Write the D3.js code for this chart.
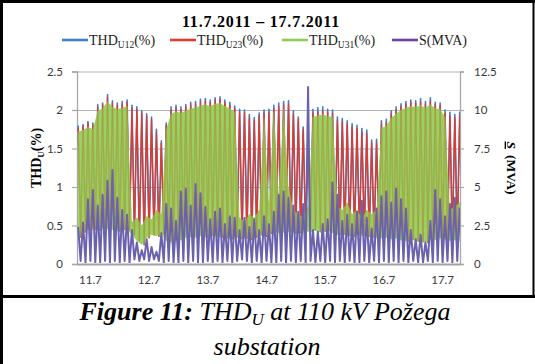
<!DOCTYPE html>
<html>
<head>
<meta charset="utf-8">
<script src="https://cdn.jsdelivr.net/npm/d3@7"></script>
<style>
  body { margin: 0; background: #fff; }
  svg { display: block; }
</style>
</head>
<body>
<div id="chart"></div>
<script>
// Values. One sample every 2 hours, first one at 10.7 ~19:00.
// Each sample is a high and a low, the logger flips between them so the
// lines look like dense vertical stripes.
const days = [11, 12, 13, 14, 15, 16, 17];
const leftTicks = [0, 0.5, 1, 1.5, 2, 2.5];
const rightTicks = [0, 2.5, 5, 7.5, 10, 12.5];
const tStart = 10.8;      // day of July of the first sample
const tStep = 1 / 12;     // 2 hours

// THD U12 (%) peaks
const u12Hi = [1.80,1.81,1.85,1.83,2.07,2.09,2.20,2.12,2.09,2.11,
               2.13,2.06,2.04,1.99,1.95,1.91,1.75,1.60,1.83,2.04,
               2.06,2.04,2.07,2.10,2.11,2.14,2.15,2.13,2.16,2.17,
               2.13,2.10,2.05,2.01,2.00,1.94,1.90,1.96,2.00,2.01,
               2.06,2.09,2.11,2.12,1.99,1.91,1.78,1.63,2.01,2.03,
               2.04,2.01,2.00,1.91,1.89,1.86,1.82,1.80,1.76,1.74,
               1.61,1.62,1.86,1.88,1.99,2.04,2.08,2.11,2.13,2.12,
               2.15,2.11,2.16,2.10,2.09,2.00,1.97,1.94,1.97];
// THD U23 (%) peaks
const u23Hi = [1.77,1.79,1.83,1.80,2.04,2.07,2.17,2.09,2.06,2.08,
               2.10,2.03,2.01,1.96,1.92,1.88,1.72,1.57,1.80,2.00,
               2.03,2.01,2.04,2.07,2.08,2.11,2.12,2.10,2.13,2.14,
               2.10,2.07,2.02,1.98,1.97,1.90,1.87,1.93,1.96,1.97,
               2.02,2.05,2.07,2.08,1.95,1.88,1.75,1.60,1.96,1.98,
               1.99,1.97,1.96,1.87,1.85,1.82,1.78,1.76,1.72,1.70,
               1.57,1.58,1.82,1.84,1.95,2.00,2.05,2.08,2.10,2.09,
               2.11,2.08,2.12,2.07,2.06,1.96,1.93,1.90,1.93];
// THD U31 (%) peaks (drops out at night)
const u31Hi = [1.72,1.74,1.78,1.75,1.99,2.02,2.11,2.04,2.01,2.03,
               2.05,0.55,0.60,0.50,0.62,0.58,0.70,0.65,1.75,1.95,
               1.98,1.96,1.99,2.02,2.03,2.06,2.07,2.05,2.08,2.09,
               2.05,2.02,1.97,0.60,0.55,0.65,0.60,0.70,1.90,0.80,
               1.97,0.90,2.02,1.00,0.70,0.65,0.60,0.75,1.91,1.93,
               1.94,1.92,1.91,0.75,0.70,0.80,0.65,0.70,0.60,0.70,
               0.65,0.70,1.77,1.79,1.90,1.95,2.00,2.03,2.05,2.04,
               2.06,2.03,2.07,2.02,2.01,1.91,0.70,0.75,0.80];
// common low values of the three THD lines (%)
const thdLo = [0.35,0.42,0.44,0.45,0.44,0.46,0.45,0.44,0.43,0.45,
               0.44,0.38,0.30,0.25,0.34,0.38,0.36,0.40,0.30,0.28,
               0.30,0.31,0.34,0.35,0.34,0.36,0.35,0.37,0.36,0.35,
               0.34,0.33,0.35,0.33,0.34,0.32,0.35,0.38,0.36,0.40,
               0.42,0.40,0.41,0.42,0.40,0.41,0.43,0.42,0.44,0.42,
               0.43,0.44,0.40,0.38,0.39,0.37,0.36,0.38,0.37,0.36,
               0.35,0.34,0.33,0.34,0.32,0.33,0.31,0.30,0.32,0.30,
               0.29,0.28,0.32,0.31,0.33,0.32,0.30,0.31,0.30];
// S (MVA) peaks and lows
const sHi = [2.4,2.7,4.2,4.8,3.8,4.5,5.4,6.1,4.3,3.5,
             3.2,2.2,1.4,0.9,1.6,1.1,0.8,2.0,3.9,3.6,
             2.8,4.7,4.9,3.8,5.2,4.6,3.7,2.9,3.4,3.6,
             2.6,3.1,3.0,2.2,3.0,2.4,2.9,2.2,3.1,2.6,
             3.4,4.5,4.7,4.3,3.8,3.4,3.9,11.5,2.2,2.1,
             2.6,2.9,5.3,4.5,2.8,3.2,2.6,3.4,4.1,3.0,
             2.3,3.6,4.4,4.7,4.0,4.9,4.2,3.6,2.2,1.6,
             1.9,1.4,2.8,4.8,4.2,3.1,3.9,4.3,3.6];
const sLo = [0.2,0.1,0.2,0.1,0.1,0.2,0.1,0.2,0.1,0.2,
             0.1,0.3,0.2,0.3,0.2,0.3,0.2,0.1,0.2,0.1,
             0.1,0.2,0.1,0.2,0.1,0.1,0.2,0.1,0.2,0.1,
             0.2,0.1,0.2,0.3,0.2,0.1,0.2,0.1,0.2,0.1,
             0.1,0.2,0.1,0.2,0.1,0.2,0.1,0.2,0.1,0.2,
             0.1,0.2,0.1,0.2,0.1,0.2,0.1,0.1,0.2,0.1,
             0.2,0.1,0.2,0.1,0.2,0.1,0.2,0.1,0.2,0.1,
             0.1,0.2,0.1,0.2,0.1,0.2,0.1,0.2,0.1];

const width = 535;
const height = 364;
const plot = {left: 77, right: 460, top: 71.5, bottom: 264};

const colors = {u12: "#3f7fd0", u23: "#e43a28", u31: "#92cc55", s: "#6a62ac"};

const svg = d3.select("#chart")
  .append("svg")
  .attr("width", width)
  .attr("height", height);

// scales
const x = d3.scaleLinear().domain([10.78, 17.305]).range([plot.left, plot.right]);
const yL = d3.scaleLinear().domain([0, 2.5]).range([plot.bottom, plot.top]);
const yR = d3.scaleLinear().domain([0, 12.5]).range([plot.bottom, plot.top]);

// gridlines
svg.append("g")
  .attr("transform", `translate(${plot.left},0)`)
  .call(d3.axisLeft(yL).tickValues(leftTicks.slice(1)).tickSize(-(plot.right - plot.left)).tickFormat(""))
  .call(g => g.select(".domain").remove())
  .call(g => g.selectAll("line").attr("stroke", "#b4b4b4").attr("stroke-width", 1.2));

// left axis
svg.append("g")
  .attr("transform", `translate(${plot.left},0)`)
  .call(d3.axisLeft(yL).tickValues(leftTicks).tickSize(5).tickPadding(9).tickFormat(d => d))
  .call(g => g.select(".domain").attr("stroke", "#a8a8a8").attr("stroke-width", 1.3))
  .call(g => g.selectAll("line").attr("stroke", "#a8a8a8").attr("stroke-width", 1.2))
  .call(g => g.selectAll("text").attr("fill", "#3a3a3a").style("font", "11.5px Lato"));

// right axis
svg.append("g")
  .attr("transform", `translate(${plot.right},0)`)
  .call(d3.axisRight(yR).tickValues(rightTicks).tickSize(4).tickPadding(10).tickFormat(d => d))
  .call(g => g.select(".domain").attr("stroke", "#a8a8a8").attr("stroke-width", 1.3))
  .call(g => g.selectAll("line").attr("stroke", "#a8a8a8").attr("stroke-width", 1.2))
  .call(g => g.selectAll("text").attr("fill", "#3a3a3a").style("font", "11.5px Lato"));

// bottom axis
svg.append("g")
  .attr("transform", `translate(0,${plot.bottom})`)
  .call(d3.axisBottom(x).tickValues(days).tickSize(0).tickPadding(12).tickFormat(d => d + ".7"))
  .call(g => g.select(".domain").attr("stroke", "#a0a0a0").attr("stroke-width", 2.2))
  .call(g => g.selectAll("text").attr("fill", "#3a3a3a").style("font", "11.5px Lato"));

// series
svg.append("clipPath").attr("id", "clip")
  .append("rect")
  .attr("x", plot.left).attr("y", plot.top - 20)
  .attr("width", plot.right - plot.left).attr("height", plot.bottom - plot.top + 19);

function zigzag(hi, lo) {
  const pts = [];
  hi.forEach((h, i) => {
    const t = tStart + i * tStep;
    pts.push([t, h]);
    pts.push([t + tStep / 2, lo[i]]);
  });
  return pts;
}

const lineL = d3.line().x(d => x(d[0])).y(d => yL(d[1]));
const lineR = d3.line().x(d => x(d[0])).y(d => yR(d[1]));

const plotG = svg.append("g").attr("clip-path", "url(#clip)");

// blue and red stripes
plotG.selectAll("path.thd")
  .data([{hi: u12Hi, color: colors.u12, w: 1.6}, {hi: u23Hi, color: colors.u23, w: 1.2}])
  .enter()
  .append("path")
    .attr("class", "thd")
    .attr("d", d => lineL(zigzag(d.hi, thdLo)))
    .attr("fill", "none")
    .attr("stroke", d => d.color)
    .attr("stroke-width", d => d.w)
    .attr("stroke-linejoin", "round");

// U31 flips so fast it paints a solid band between its lows and highs
const band = d3.area()
  .x((d, i) => x(tStart + i * tStep))
  .y0((d, i) => yL(thdLo[i]))
  .y1(d => yL(d));
plotG.append("path")
  .attr("d", band(u31Hi))
  .attr("fill", colors.u31)
  .attr("fill-opacity", 0.92);
plotG.append("path")
  .attr("d", lineL(zigzag(u31Hi, thdLo)))
  .attr("fill", "none")
  .attr("stroke", colors.u31)
  .attr("stroke-width", 1.2)
  .attr("stroke-opacity", 0.7);

// faint red stripes showing through the green band
plotG.append("path")
  .attr("d", lineL(zigzag(u23Hi, thdLo)))
  .attr("fill", "none")
  .attr("stroke", colors.u23)
  .attr("stroke-width", 0.8)
  .attr("stroke-opacity", 0.3);

// S on the right axis
plotG.append("path")
  .attr("d", lineR(zigzag(sHi, sLo)))
  .attr("fill", "none")
  .attr("stroke", colors.s)
  .attr("stroke-width", 2.0)
  .attr("stroke-linejoin", "round");

// title
svg.append("text")
  .attr("x", 261).attr("y", 27)
  .attr("text-anchor", "middle")
  .style("font", "bold 16px 'Liberation Serif'")
  .style("letter-spacing", "0.8px")
  .text("11.7.2011 \u2013 17.7.2011");

// legend
const legend = [
  {x: 62, sub: "U12", tail: "(%)", color: colors.u12},
  {x: 170, sub: "U23", tail: "(%)", color: colors.u23},
  {x: 282, sub: "U31", tail: "(%)", color: colors.u31},
  {x: 392, sub: null, tail: "S(MVA)", color: "#7040a8"}
];
const lg = svg.append("g").selectAll("g").data(legend).enter().append("g");
lg.append("line")
  .attr("x1", d => d.x).attr("x2", d => d.x + 26)
  .attr("y1", 40).attr("y2", 40)
  .attr("stroke", d => d.color).attr("stroke-width", 2.6);
const lt = lg.append("text")
  .attr("x", d => d.x + 27).attr("y", 44.5)
  .style("font", "14px 'Liberation Serif'")
  .attr("fill", "#222");
lt.each(function(d) {
  const t = d3.select(this);
  if (d.sub) {
    t.append("tspan").text("THD");
    t.append("tspan").attr("dy", 3).style("font-size", "9.5px").text(d.sub);
    t.append("tspan").attr("dy", -3).text(d.tail);
  } else {
    t.append("tspan").text(d.tail);
  }
});

// axis titles
const yt = svg.append("text")
  .attr("transform", "translate(41,158) rotate(-90)")
  .attr("text-anchor", "middle")
  .style("font", "bold 14px 'Liberation Serif'");
yt.append("tspan").text("THD");
yt.append("tspan").attr("dy", 3).style("font-size", "9px").text("U");
yt.append("tspan").attr("dy", -3).text("(%)");

const rt = svg.append("text")
  .attr("transform", "translate(507,168) rotate(90)")
  .attr("text-anchor", "middle")
  .style("font", "bold 13.5px 'Liberation Serif'");
rt.append("tspan").style("font-style", "italic").style("text-decoration", "underline").text("S");
rt.append("tspan").text("\u2009 (MVA)");

// frame
const frame = svg.append("g").attr("stroke", "#000");
frame.append("line").attr("x1", 1.5).attr("x2", 1.5).attr("y1", 0).attr("y2", height).attr("stroke-width", 3);
frame.append("line").attr("x1", 0).attr("x2", width).attr("y1", 1.5).attr("y2", 1.5).attr("stroke-width", 3);
frame.append("line").attr("x1", 0).attr("x2", width).attr("y1", 296.5).attr("y2", 296.5).attr("stroke-width", 3);
frame.append("line").attr("x1", 533.5).attr("x2", 533.5).attr("y1", 0).attr("y2", 296).attr("stroke-width", 2);

// caption
const cap = svg.append("text")
  .attr("x", 265).attr("y", 320)
  .attr("text-anchor", "middle")
  .style("font", "italic 26px 'Liberation Serif'");
cap.append("tspan").style("font-weight", "bold").text("Figure 11:");
cap.append("tspan").text(" THD");
cap.append("tspan").attr("dy", 5).style("font-size", "17px").text("U");
cap.append("tspan").attr("dy", -5).text(" at 110 kV Po\u017eega");

svg.append("text")
  .attr("x", 267).attr("y", 355)
  .attr("text-anchor", "middle")
  .style("font", "italic 26px 'Liberation Serif'")
  .text("substation");
</script>
</body>
</html>
